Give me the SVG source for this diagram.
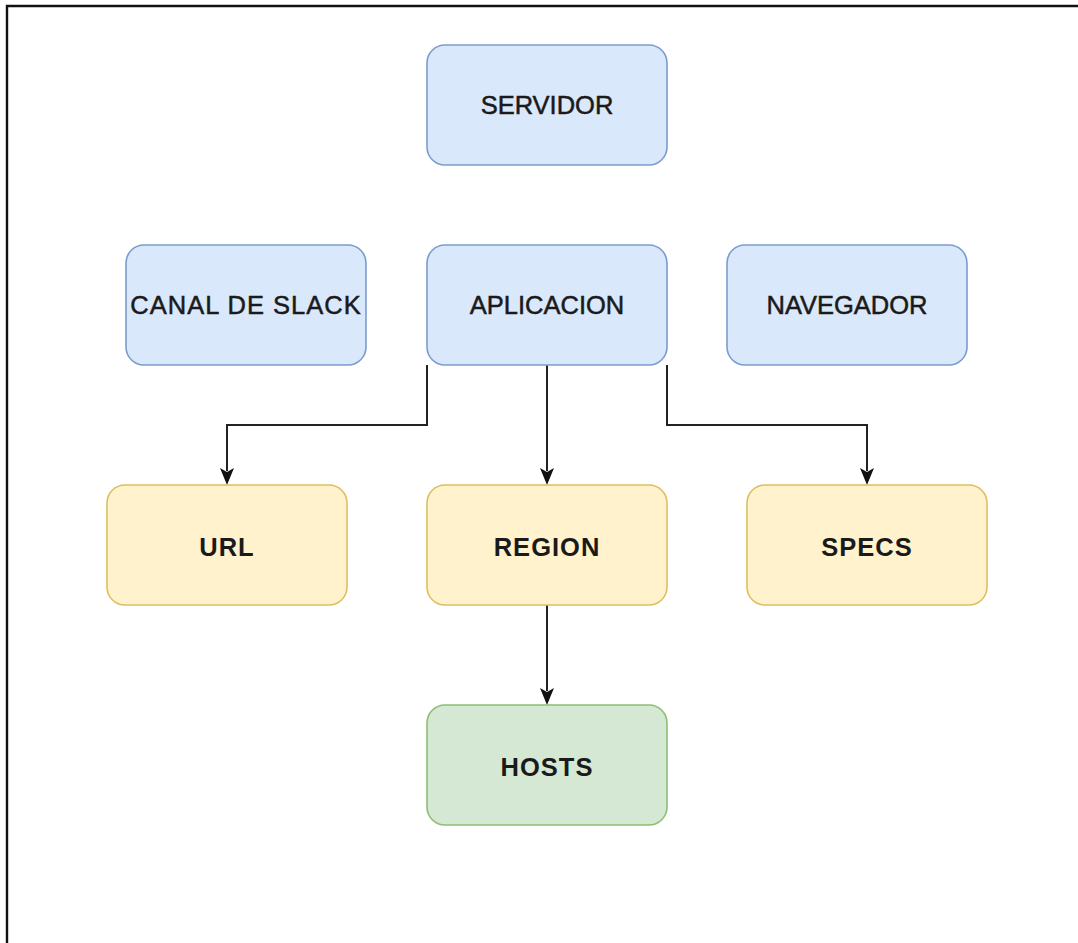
<svg xmlns="http://www.w3.org/2000/svg" width="1078" height="943" viewBox="0 0 1078 943">
<defs>
<style>
.box{stroke-width:1.6}
.blue{fill:#dae8fc;stroke:#7b9ccb}
.yellow{fill:#fff2cc;stroke:#dcc060}
.green{fill:#d5e8d4;stroke:#8ebd74}
.t{font-family:"Liberation Sans",Arial,sans-serif;font-size:25.5px;fill:#1a1a1a;text-anchor:middle}
.n{stroke:#1a1a1a;stroke-width:0.5}
.b{font-weight:bold;letter-spacing:1px}
.edge{fill:none;stroke:#222;stroke-width:2}
.ah{fill:#111}
</style>
</defs>
<rect width="1078" height="943" fill="#fff"/>
<path d="M7,943 V6 H1078" fill="none" stroke="#111" stroke-width="2.4"/>
<g id="connectors">
<path class="edge" d="M427,365 V425 H227 V471"/>
<path class="edge" d="M547,365 V471"/>
<path class="edge" d="M667,365 V425 H867 V471"/>
<path class="edge" d="M547,605 V691"/>
<path class="ah" d="M220,468 L227,472 L234,468 L227,485 Z"/>
<path class="ah" d="M540,468 L547,472 L554,468 L547,485 Z"/>
<path class="ah" d="M860,468 L867,472 L874,468 L867,485 Z"/>
<path class="ah" d="M540,688 L547,692 L554,688 L547,705 Z"/>
</g>
<g id="servidor"><rect class="box blue" x="427" y="45" width="240" height="120" rx="18"/><text class="t n" x="547" y="114">SERVIDOR</text></g>
<g id="canal"><rect class="box blue" x="126" y="245" width="240" height="120" rx="18"/><text class="t n" x="246" y="314" letter-spacing="1">CANAL DE SLACK</text></g>
<g id="aplicacion"><rect class="box blue" x="427" y="245" width="240" height="120" rx="18"/><text class="t n" x="547" y="314">APLICACION</text></g>
<g id="navegador"><rect class="box blue" x="727" y="245" width="240" height="120" rx="18"/><text class="t n" x="847" y="314">NAVEGADOR</text></g>
<g id="url"><rect class="box yellow" x="107" y="485" width="240" height="120" rx="18"/><text class="t b" x="227" y="556">URL</text></g>
<g id="region"><rect class="box yellow" x="427" y="485" width="240" height="120" rx="18"/><text class="t b" x="547" y="556">REGION</text></g>
<g id="specs"><rect class="box yellow" x="747" y="485" width="240" height="120" rx="18"/><text class="t b" x="867" y="556">SPECS</text></g>
<g id="hosts"><rect class="box green" x="427" y="705" width="240" height="120" rx="18"/><text class="t b" x="547" y="776">HOSTS</text></g>
</svg>
